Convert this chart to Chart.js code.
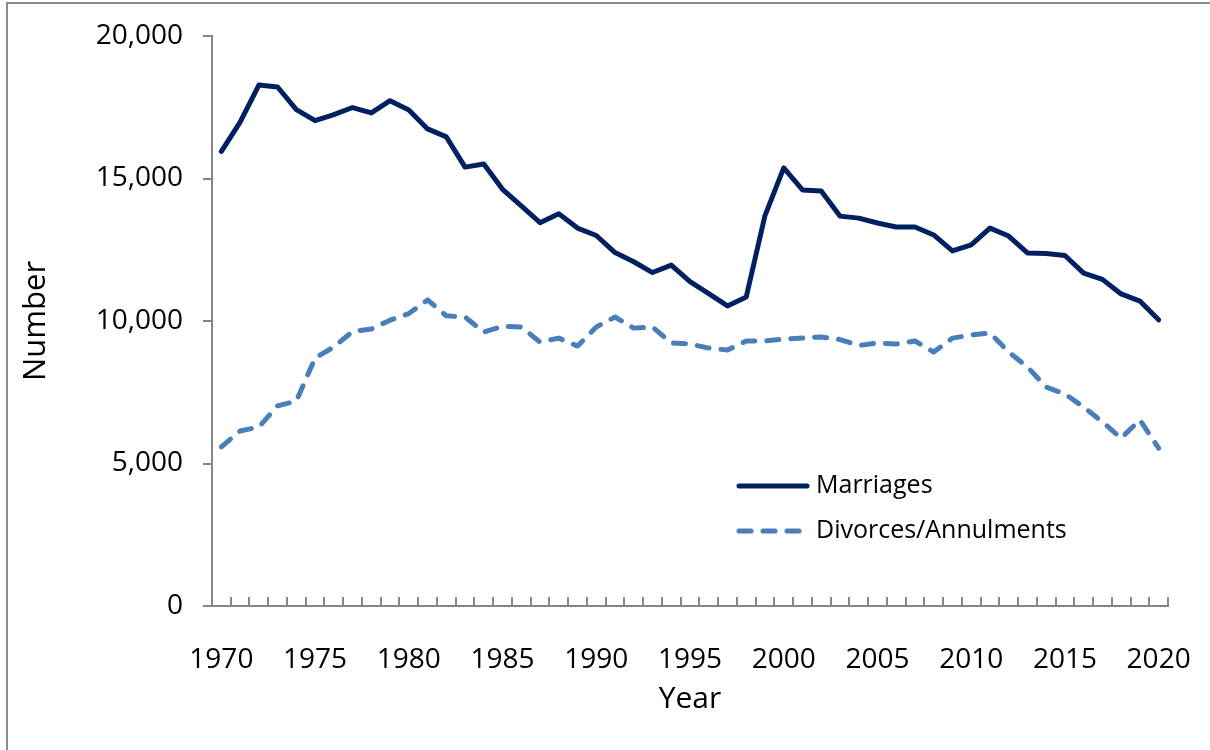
<!DOCTYPE html>
<html>
<head>
<meta charset="utf-8">
<script src="https://cdn.jsdelivr.net/npm/chart.js@4.4.1/dist/chart.umd.min.js"></script>
<style>
  html, body { margin: 0; padding: 0; background: #ffffff; }
  #wrap { position: relative; width: 1210px; height: 750px; overflow: hidden; }
  #frame { position: absolute; left: 6px; top: 2px; width: 1300px; height: 900px; border: 2px solid #8c8c8c; box-sizing: border-box; pointer-events: none; }
  canvas { position: absolute; left: 0; top: 0; }
</style>
</head>
<body>
<div id="wrap">
  <canvas id="c" width="1210" height="750"></canvas>
  <div id="frame"></div>
</div>
<script>
const years = [1970,1971,1972,1973,1974,1975,1976,1977,1978,1979,1980,1981,1982,1983,1984,1985,1986,1987,1988,1989,1990,1991,1992,1993,1994,1995,1996,1997,1998,1999,2000,2001,2002,2003,2004,2005,2006,2007,2008,2009,2010,2011,2012,2013,2014,2015,2016,2017,2018,2019,2020];
const marriages = [15950,16980,18280,18210,17420,17030,17240,17490,17300,17730,17400,16740,16460,15400,15510,14620,14040,13450,13760,13260,13000,12400,12080,11700,11960,11380,10960,10530,10840,13700,15370,14600,14560,13680,13610,13440,13300,13300,13020,12460,12670,13260,12980,12390,12370,12300,11680,11460,10950,10700,10040];
const divorces = [5580,6140,6280,7020,7190,8700,9090,9630,9720,10030,10260,10740,10180,10140,9610,9820,9790,9260,9400,9120,9790,10140,9750,9790,9230,9190,9050,8980,9300,9300,9370,9400,9440,9350,9140,9230,9190,9300,8910,9400,9510,9580,8910,8390,7680,7440,6980,6460,5890,6530,5540];
const seriesNames = ['Marriages', 'Divorces/Annulments'];
const yTicks = [0, 5000, 10000, 15000, 20000];
const xLabelStep = 5;

const FONT = "'Open Sans', 'Noto Sans', sans-serif";
const AXIS = '#868686';

const innerTicks = {
  id: 'innerTicks',
  afterDraw(chart) {
    const xs = chart.scales.x;
    const ctx = chart.ctx;
    const bottom = chart.chartArea.bottom;
    ctx.save();
    ctx.strokeStyle = AXIS;
    ctx.lineWidth = 2;
    const n = xs.getLabels().length;
    const half = (xs.getPixelForValue(1) - xs.getPixelForValue(0)) / 2;
    for (let i = 0; i <= n; i++) {
      const x = Math.round(xs.getPixelForValue(i) - half);
      ctx.beginPath();
      ctx.moveTo(x, bottom);
      ctx.lineTo(x, bottom - 9);
      ctx.stroke();
    }
    ctx.restore();
  }
};

const insideLegend = {
  id: 'insideLegend',
  afterDraw(chart) {
    const ctx = chart.ctx;
    const ca = chart.chartArea;
    const x0 = ca.left + 527, x1 = ca.left + 595, tx = ca.left + 604;
    const ys = [ca.top + 450, ca.top + 495];
    ctx.save();
    chart.data.datasets.forEach((ds, i) => {
      ctx.strokeStyle = ds.borderColor;
      ctx.lineWidth = ds.borderWidth;
      ctx.lineCap = 'round';
      ctx.setLineDash(ds.borderDash || []);
      ctx.beginPath();
      ctx.moveTo(x0, ys[i]);
      ctx.lineTo(x1, ys[i]);
      ctx.stroke();
      ctx.setLineDash([]);
      ctx.fillStyle = '#000';
      ctx.font = "25px " + FONT;
      ctx.textBaseline = 'middle';
      ctx.textAlign = 'left';
      ctx.fillText(ds.label, tx, ys[i]);
    });
    ctx.restore();
  }
};

new Chart(document.getElementById('c'), {
  type: 'line',
  data: {
    labels: years,
    datasets: [
      { label: seriesNames[0], data: marriages, borderColor: '#002060', borderWidth: 5, pointRadius: 0, tension: 0, borderJoinStyle: 'round', borderCapStyle: 'round', fill: false },
      { label: seriesNames[1], data: divorces, borderColor: '#4a7ebb', borderWidth: 5, borderDash: [12, 12], borderCapStyle: 'round', borderJoinStyle: 'round', pointRadius: 0, tension: 0, fill: false }
    ]
  },
  options: {
    responsive: false,
    animation: false,
    devicePixelRatio: 1,
    layout: { padding: { left: 0, right: 42, top: 36, bottom: 0 } },
    plugins: { legend: { display: false }, tooltip: { enabled: false } },
    scales: {
      x: {
        type: 'category',
        offset: true,
        grid: { display: true, drawOnChartArea: false, drawTicks: false, offset: true },
        border: { display: true, color: AXIS, width: 2 },
        ticks: {
          autoSkip: false, maxRotation: 0, minRotation: 0, padding: 37,
          color: '#000', font: { family: FONT, size: 28 },
          callback: function(v, i) { const y = years[i]; return (y % xLabelStep === 0) ? String(y) : ''; }
        },
        title: { display: true, text: 'Year', color: '#000', font: { family: FONT, size: 30 }, padding: { top: 0, bottom: 33 } },
        afterFit(s) { s.height = 144; s.paddingLeft = 0; s.paddingRight = 0; }
      },
      y: {
        min: 0, max: 20000,
        afterBuildTicks(s) { s.ticks = yTicks.map(v => ({ value: v })); },
        grid: { display: true, drawOnChartArea: false, drawTicks: true, tickLength: 9, color: AXIS, lineWidth: 2 },
        border: { display: true, color: AXIS, width: 2 },
        ticks: {
          padding: 20, color: '#000', font: { family: FONT, size: 28 },
          callback: v => Number(v).toLocaleString('en-US')
        },
        title: { display: true, text: 'Number', color: '#000', font: { family: FONT, size: 31 }, padding: { top: 18, bottom: 0 } },
        afterFit(s) { s.width = 212; s.paddingTop = 0; s.paddingBottom = 0; }
      }
    }
  },
  plugins: [innerTicks, insideLegend]
});
</script>
</body>
</html>
